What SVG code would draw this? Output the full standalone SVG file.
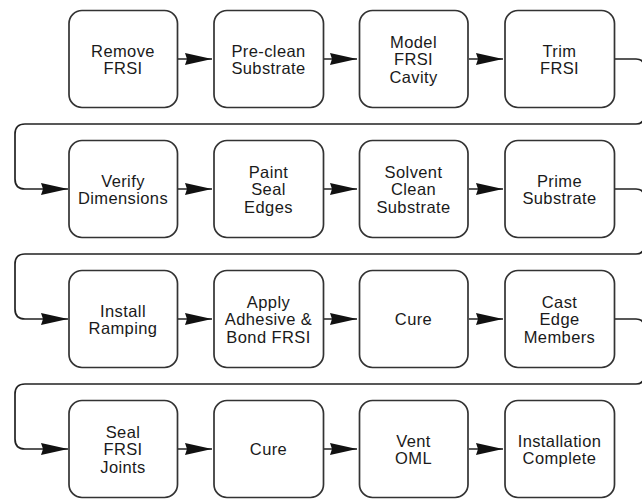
<svg xmlns="http://www.w3.org/2000/svg" width="642" height="500" viewBox="0 0 642 500">
<style>
.box{fill:#fff;stroke:#333;stroke-width:1.7}
.t{font-family:"Liberation Sans",Arial,sans-serif;font-size:16.5px;letter-spacing:0.4px;fill:#1a1a1a;text-anchor:middle}
.c{fill:none;stroke:#222;stroke-width:1.7}
</style>
<defs>
<marker id="ah" markerUnits="userSpaceOnUse" markerWidth="30" markerHeight="14" viewBox="0 -7 28 14" refX="27" refY="0" orient="auto">
<path d="M0,-6 L27,0 L0,6 L2,0 Z" fill="#111"/>
</marker>
</defs>
<rect width="642" height="500" fill="#fff"/>
<g id="connectors">
<path class="c" d="M178,59 H212" marker-end="url(#ah)"/>
<path class="c" d="M324,59 H357" marker-end="url(#ah)"/>
<path class="c" d="M469,59 H503" marker-end="url(#ah)"/>
<path class="c" d="M615,59 H636 Q644,59 644,67 V116 Q644,124 636,124 H25 Q15,124 15,134 V179 Q15,189 25,189 H68" marker-end="url(#ah)"/>
<path class="c" d="M178,189 H212" marker-end="url(#ah)"/>
<path class="c" d="M324,189 H357" marker-end="url(#ah)"/>
<path class="c" d="M469,189 H503" marker-end="url(#ah)"/>
<path class="c" d="M615,189 H636 Q644,189 644,197 V246 Q644,254 636,254 H25 Q15,254 15,264 V309 Q15,319 25,319 H68" marker-end="url(#ah)"/>
<path class="c" d="M178,319 H212" marker-end="url(#ah)"/>
<path class="c" d="M324,319 H357" marker-end="url(#ah)"/>
<path class="c" d="M469,319 H503" marker-end="url(#ah)"/>
<path class="c" d="M615,319 H636 Q644,319 644,327 V376 Q644,384 636,384 H25 Q15,384 15,394 V439 Q15,449 25,449 H68" marker-end="url(#ah)"/>
<path class="c" d="M178,449 H212" marker-end="url(#ah)"/>
<path class="c" d="M324,449 H357" marker-end="url(#ah)"/>
<path class="c" d="M469,449 H503" marker-end="url(#ah)"/>
</g>
<g id="n1"><rect class="box" x="69" y="10.5" width="108.5" height="97" rx="13"/><text class="t" x="123" y="56.5">Remove</text><text class="t" x="123" y="74">FRSI</text></g>
<g id="n2"><rect class="box" x="214" y="10.5" width="109.5" height="97" rx="13"/><text class="t" x="268.5" y="56.5">Pre-clean</text><text class="t" x="268.5" y="74">Substrate</text></g>
<g id="n3"><rect class="box" x="359.5" y="10.5" width="108.5" height="97" rx="13"/><text class="t" x="413.5" y="47.5">Model</text><text class="t" x="413.5" y="65">FRSI</text><text class="t" x="413.5" y="82.5">Cavity</text></g>
<g id="n4"><rect class="box" x="505" y="10.5" width="109.5" height="97" rx="13"/><text class="t" x="559.5" y="56.5">Trim</text><text class="t" x="559.5" y="74">FRSI</text></g>
<g id="n5"><rect class="box" x="69" y="140.5" width="108.5" height="97" rx="13"/><text class="t" x="123" y="186.5">Verify</text><text class="t" x="123" y="204">Dimensions</text></g>
<g id="n6"><rect class="box" x="214" y="140.5" width="109.5" height="97" rx="13"/><text class="t" x="268.5" y="177.5">Paint</text><text class="t" x="268.5" y="195">Seal</text><text class="t" x="268.5" y="212.5">Edges</text></g>
<g id="n7"><rect class="box" x="359.5" y="140.5" width="108.5" height="97" rx="13"/><text class="t" x="413.5" y="177.5">Solvent</text><text class="t" x="413.5" y="195">Clean</text><text class="t" x="413.5" y="212.5">Substrate</text></g>
<g id="n8"><rect class="box" x="505" y="140.5" width="109.5" height="97" rx="13"/><text class="t" x="559.5" y="186.5">Prime</text><text class="t" x="559.5" y="204">Substrate</text></g>
<g id="n9"><rect class="box" x="69" y="270.5" width="108.5" height="97" rx="13"/><text class="t" x="123" y="316.5">Install</text><text class="t" x="123" y="334">Ramping</text></g>
<g id="n10"><rect class="box" x="214" y="270.5" width="109.5" height="97" rx="13"/><text class="t" x="268.5" y="307.5">Apply</text><text class="t" x="268.5" y="325">Adhesive &amp;</text><text class="t" x="268.5" y="342.5">Bond FRSI</text></g>
<g id="n11"><rect class="box" x="359.5" y="270.5" width="108.5" height="97" rx="13"/><text class="t" x="413.5" y="325">Cure</text></g>
<g id="n12"><rect class="box" x="505" y="270.5" width="109.5" height="97" rx="13"/><text class="t" x="559.5" y="307.5">Cast</text><text class="t" x="559.5" y="325">Edge</text><text class="t" x="559.5" y="342.5">Members</text></g>
<g id="n13"><rect class="box" x="69" y="400.5" width="108.5" height="97" rx="13"/><text class="t" x="123" y="437.5">Seal</text><text class="t" x="123" y="455">FRSI</text><text class="t" x="123" y="472.5">Joints</text></g>
<g id="n14"><rect class="box" x="214" y="400.5" width="109.5" height="97" rx="13"/><text class="t" x="268.5" y="455">Cure</text></g>
<g id="n15"><rect class="box" x="359.5" y="400.5" width="108.5" height="97" rx="13"/><text class="t" x="413.5" y="446.5">Vent</text><text class="t" x="413.5" y="464">OML</text></g>
<g id="n16"><rect class="box" x="505" y="400.5" width="109.5" height="97" rx="13"/><text class="t" x="559.5" y="446.5">Installation</text><text class="t" x="559.5" y="464">Complete</text></g>
</svg>
